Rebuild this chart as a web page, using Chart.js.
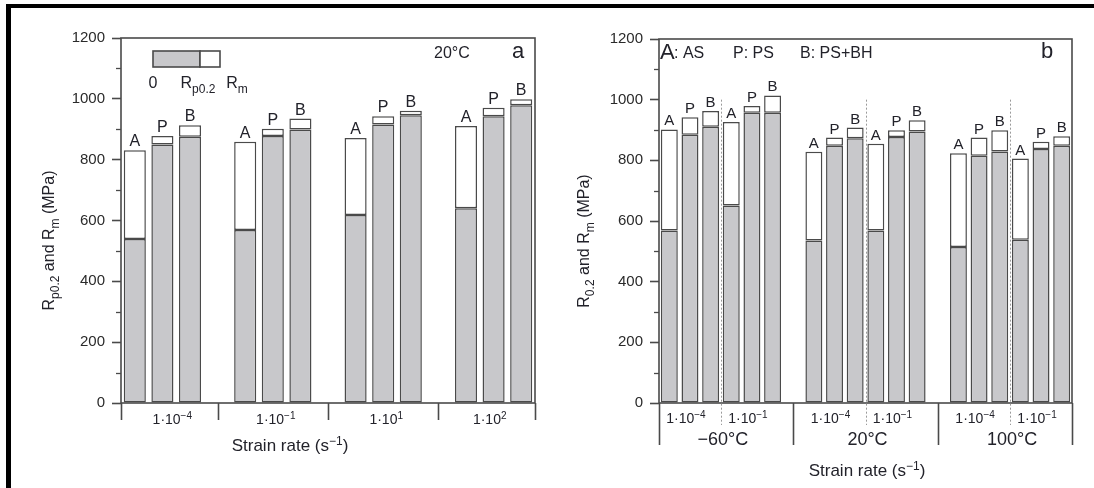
<!DOCTYPE html>
<html lang="en">
<head>
<meta charset="UTF-8">
<title>Rp0.2 and Rm vs strain rate</title>
<script src="https://cdn.jsdelivr.net/npm/chart.js"></script>
<style>
  html, body { margin: 0; padding: 0; background: #fff; }
  #page { position: relative; width: 1094px; height: 488px; overflow: hidden; }
  #frameTop { position: absolute; left: 6px; top: 4px; width: 1088px; height: 4px; background: #000; }
  #frameLeft { position: absolute; left: 6px; top: 4px; width: 5px; height: 484px; background: #000; }
  #panelA { position: absolute; left: 0; top: 0; }
  #panelB { position: absolute; left: 547px; top: 0; }
</style>
</head>
<body>
<div id="page">
  <canvas id="panelA" width="547" height="488"></canvas>
  <canvas id="panelB" width="547" height="488"></canvas>
  <div id="frameTop"></div>
  <div id="frameLeft"></div>
</div>

<script>
// letters written above each bar: A = AS, P = PS, B = PS+BH
const barLetters = ['A', 'P', 'B'];

// panel a : 20°C, four strain rates, 3 bars each (A, P, B)
// strain rate labels as [mantissa, exponent]
const ratesA = [['1·10', '−4'], ['1·10', '−1'], ['1·10', '1'], ['1·10', '2']];
const rp02A = [539, 850, 875, 569, 878, 899, 618, 916, 946, 640, 943, 979];
const rmA = [831, 878, 913, 859, 902, 935, 871, 943, 961, 911, 971, 999];

// panel b : three temperatures, two strain rates each, 3 bars each
const tempsB = ['−60°C', '20°C', '100°C'];
const ratesB = [['1·10', '−4'], ['1·10', '−1']];
const rp02B = [569, 884, 911, 651, 957, 957, 536, 848, 873, 569, 877, 895, 514, 815, 829, 538, 837, 848];
const rmB = [902, 942, 963, 926, 979, 1014, 828, 875, 908, 855, 899, 932, 823, 875, 899, 806, 861, 879];

const yMax = 1200;
const yMajorStep = 200;
const yMinorStep = 100;

const FONT = '"Liberation Sans", Arial, sans-serif';
const INK = '#22222a';
const AXIS = '#4a4a4a';
const GREY = '#c8c8cb';

// put an empty slot between groups so the bars cluster like the figure
function slotted(values, groupSize) {
    let out = [];
    values.forEach((v, i) => {
        if (i > 0 && i % groupSize === 0) out.push(null);
        out.push(v);
    });
    return out;
}

function gapIndexes(slots) {
    let idx = [];
    slots.forEach((v, i) => { if (v === null) idx.push(i); });
    return idx;
}

// text with sub/superscripts, parts = [[text, mode], ...] mode 0 normal, 1 sub, 2 sup
function richText(ctx, parts, x, y, size, align) {
    let big = size + 'px ' + FONT;
    let small = Math.round(size * 0.72) + 'px ' + FONT;
    let w = 0;
    parts.forEach(p => { ctx.font = p[1] ? small : big; w += ctx.measureText(p[0]).width; });
    let cx = align === 'center' ? x - w / 2 : x;
    ctx.textAlign = 'left';
    ctx.textBaseline = 'alphabetic';
    parts.forEach(p => {
        ctx.font = p[1] ? small : big;
        let dy = p[1] === 1 ? size * 0.3 : (p[1] === 2 ? -size * 0.38 : 0);
        ctx.fillText(p[0], cx, y + dy);
        cx += ctx.measureText(p[0]).width;
    });
}

function rateText(ctx, r, x, y, size) {
    richText(ctx, [[r[0], 0], [r[1], 2]], x, y, size, 'center');
}

function commonDecor(chart, letterSize, yTitleParts, yTitleX) {
    const ctx = chart.ctx, a = chart.chartArea, y = chart.scales.y;
    ctx.save();
    // plot box
    ctx.strokeStyle = AXIS;
    ctx.lineWidth = 1.6;
    ctx.strokeRect(a.left, a.top, a.right - a.left, a.bottom - a.top);
    // minor ticks
    ctx.lineWidth = 1.3;
    for (let v = yMinorStep; v < yMax; v += yMajorStep) {
        let py = Math.round(y.getPixelForValue(v)) + 0.5;
        ctx.beginPath();
        ctx.moveTo(a.left - 5, py);
        ctx.lineTo(a.left, py);
        ctx.stroke();
    }
    // letters above each bar
    ctx.fillStyle = INK;
    ctx.font = letterSize + 'px ' + FONT;
    ctx.textAlign = 'center';
    ctx.textBaseline = 'alphabetic';
    let k = 0;
    chart.getDatasetMeta(1).data.forEach((el, i) => {
        if (chart.data.datasets[1].data[i] === null) return;
        ctx.fillText(barLetters[k % 3], el.x, el.y - 4);
        k++;
    });
    // y title, rotated
    ctx.translate(yTitleX, (a.top + a.bottom) / 2 + 20);
    ctx.rotate(-Math.PI / 2);
    richText(ctx, yTitleParts, 0, 6, 16, 'center');
    ctx.restore();
}

function barChart(canvasId, groupSize, rp, rm, barPct, layoutPad, yWidth, plugin) {
    const rpSlots = slotted(rp, groupSize);
    const rmSlots = slotted(rm, groupSize);
    const labels = rmSlots.map((v, i) => 's' + i);
    return new Chart(document.getElementById(canvasId), {
        type: 'bar',
        data: {
            labels: labels,
            datasets: [{
                label: 'Rp0.2',
                data: rpSlots,
                backgroundColor: GREY,
                borderColor: AXIS,
                borderWidth: 1.5,
                borderSkipped: false,
                barPercentage: barPct,
                categoryPercentage: 1
            }, {
                label: 'Rm',
                data: rmSlots.map((v, i) => v === null ? null : v - rpSlots[i]),
                backgroundColor: '#ffffff',
                borderColor: AXIS,
                borderWidth: 1.5,
                borderSkipped: false,
                barPercentage: barPct,
                categoryPercentage: 1
            }]
        },
        options: {
            responsive: false,
            animation: false,
            layout: { padding: layoutPad },
            plugins: { legend: { display: false }, tooltip: { enabled: false } },
            scales: {
                x: { stacked: true, display: false },
                y: {
                    stacked: true,
                    min: 0,
                    max: yMax,
                    afterFit: (scale) => { scale.width = yWidth; },
                    border: { display: false },
                    grid: {
                        drawOnChartArea: false,
                        tickLength: 9,
                        tickWidth: 1.6,
                        tickColor: (c) => (c.tick && c.tick.value % yMajorStep === 0) ? AXIS : 'rgba(0,0,0,0)'
                    },
                    ticks: {
                        stepSize: yMinorStep,
                        padding: 7,
                        color: '#2a2a2a',
                        font: { family: FONT, size: 15 },
                        callback: (v) => v % yMajorStep === 0 ? v : ''
                    }
                }
            }
        },
        plugins: [plugin]
    });
}

// ---------- panel a ----------
const slotsA = slotted(rmA, 3);

const panelAPlugin = {
    id: 'panelADecor',
    afterDraw(chart) {
        const ctx = chart.ctx, a = chart.chartArea, x = chart.scales.x;
        commonDecor(chart, 16, [['R', 0], ['p0.2', 1], [' and R', 0], ['m', 1], [' (MPa)', 0]], 48);
        ctx.save();
        ctx.strokeStyle = AXIS;
        ctx.lineWidth = 1.6;
        const seps = [a.left, ...gapIndexes(slotsA).map(i => x.getPixelForValue(i)), a.right];
        seps.forEach(px => {
            ctx.beginPath();
            ctx.moveTo(Math.round(px) + 0.5, a.bottom);
            ctx.lineTo(Math.round(px) + 0.5, a.bottom + 17);
            ctx.stroke();
        });
        ctx.fillStyle = INK;
        ratesA.forEach((r, i) => rateText(ctx, r, (seps[i] + seps[i + 1]) / 2 + 3, a.bottom + 21, 14));
        richText(ctx, [['Strain rate (s', 0], ['−1', 2], [')', 0]], 290, 451, 17, 'center');

        // key: grey bar from 0 to Rp0.2, white from Rp0.2 to Rm
        ctx.fillStyle = GREY;
        ctx.fillRect(153, 51, 47, 16);
        ctx.strokeRect(153, 51, 47, 16);
        ctx.fillStyle = '#fff';
        ctx.fillRect(200, 51, 20, 16);
        ctx.strokeRect(200, 51, 20, 16);
        ctx.fillStyle = INK;
        ctx.font = '16px ' + FONT;
        ctx.textAlign = 'center';
        ctx.textBaseline = 'alphabetic';
        ctx.fillText('0', 153, 88);
        richText(ctx, [['R', 0], ['p0.2', 1]], 198, 88, 16, 'center');
        richText(ctx, [['R', 0], ['m', 1]], 237, 88, 16, 'center');

        ctx.textAlign = 'left';
        ctx.textBaseline = 'middle';
        ctx.font = '16px ' + FONT;
        ctx.fillText('20°C', 434, 54);
        ctx.font = '22px ' + FONT;
        ctx.fillText('a', 512, 52);
        ctx.restore();
    }
};

barChart('panelA', 3, rp02A, rmA, 0.8, { left: 0, right: 12, top: 38, bottom: 85 }, 121, panelAPlugin);

// ---------- panel b ----------
const slotsB = slotted(rmB, 6);

const panelBPlugin = {
    id: 'panelBDecor',
    afterDraw(chart) {
        const ctx = chart.ctx, a = chart.chartArea, x = chart.scales.x, y = chart.scales.y;
        commonDecor(chart, 15, [['R', 0], ['0.2', 1], [' and R', 0], ['m', 1], [' (MPa)', 0]], 36);
        ctx.save();
        ctx.strokeStyle = AXIS;
        ctx.lineWidth = 1.6;
        const seps = [a.left, ...gapIndexes(slotsB).map(i => x.getPixelForValue(i)), a.right];
        seps.forEach(px => {
            ctx.beginPath();
            ctx.moveTo(Math.round(px) + 0.5, a.bottom);
            ctx.lineTo(Math.round(px) + 0.5, a.bottom + 42);
            ctx.stroke();
        });
        // dotted split between the two strain rates of each temperature
        ctx.strokeStyle = '#9a9a9a';
        ctx.lineWidth = 1;
        ctx.setLineDash([2, 2]);
        let mids = [];
        tempsB.forEach((t, g) => {
            const first = g * 7;
            const px = (x.getPixelForValue(first + 2) + x.getPixelForValue(first + 3)) / 2;
            mids.push(px);
            ctx.beginPath();
            ctx.moveTo(Math.round(px) + 0.5, y.getPixelForValue(1000));
            ctx.lineTo(Math.round(px) + 0.5, a.bottom + 22);
            ctx.stroke();
        });
        ctx.setLineDash([]);

        ctx.fillStyle = INK;
        tempsB.forEach((t, g) => {
            ratesB.forEach((r, j) => {
                const first = g * 7 + j * 3;
                rateText(ctx, r, x.getPixelForValue(first + 1) - 4, a.bottom + 20, 14);
            });
        });
        ctx.textAlign = 'center';
        ctx.textBaseline = 'middle';
        ctx.font = '18px ' + FONT;
        tempsB.forEach((t, g) => ctx.fillText(t, mids[g] + 2, a.bottom + 37));
        richText(ctx, [['Strain rate (s', 0], ['−1', 2], [')', 0]], 320, 476, 17, 'center');

        ctx.textAlign = 'left';
        ctx.textBaseline = 'middle';
        ctx.font = '22px ' + FONT;
        ctx.fillText('A', a.left + 1, 53);
        ctx.font = '16px ' + FONT;
        ctx.fillText(': AS', a.left + 15, 54);
        ctx.fillText('P: PS', a.left + 74, 54);
        ctx.fillText('B: PS+BH', a.left + 141, 54);
        ctx.font = '22px ' + FONT;
        ctx.fillText('b', 494, 52);
        ctx.restore();
    }
};

barChart('panelB', 6, rp02B, rmB, 0.82, { left: 0, right: 22, top: 39, bottom: 85 }, 112, panelBPlugin);
</script>
</body>
</html>
